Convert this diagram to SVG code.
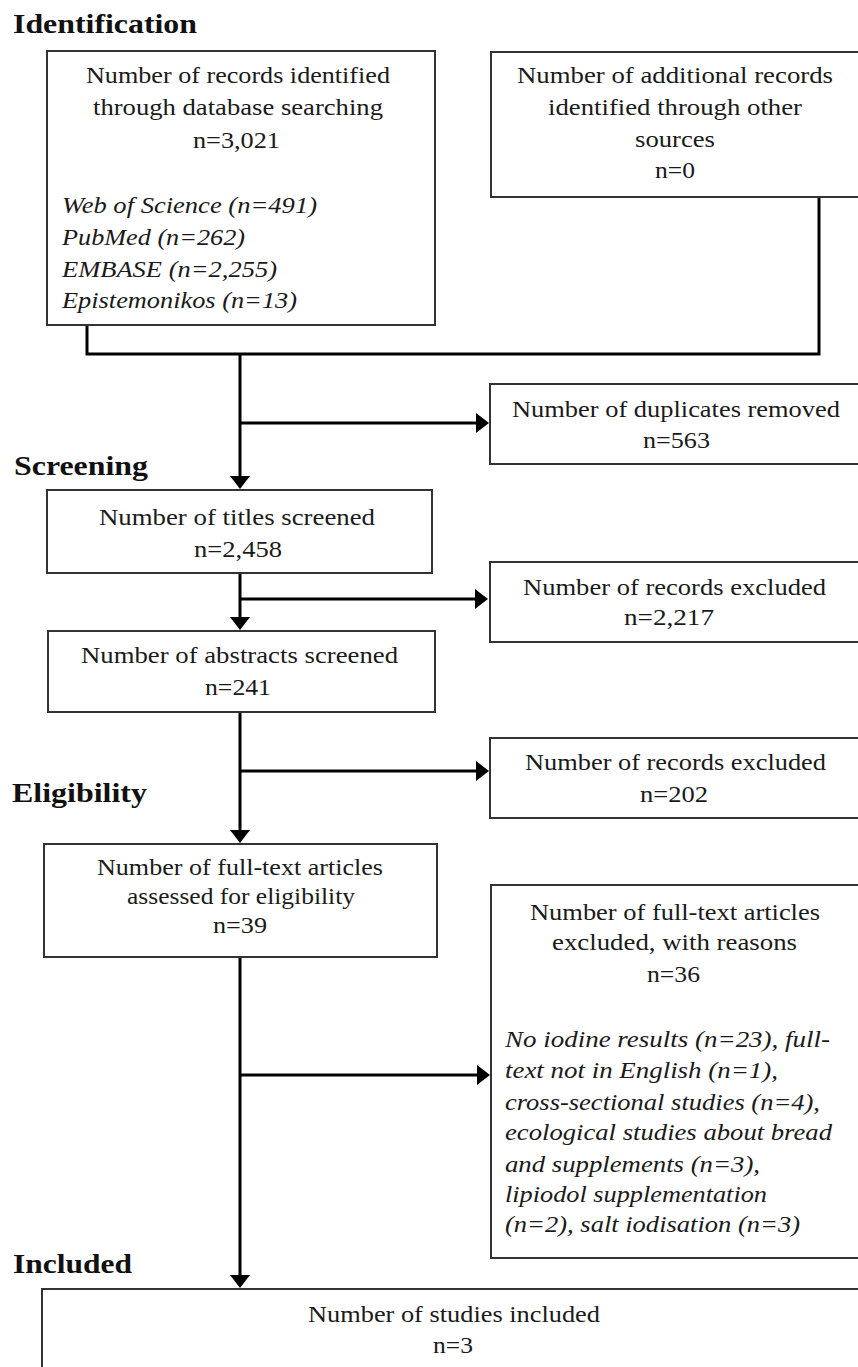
<svg xmlns="http://www.w3.org/2000/svg" width="858" height="1367" viewBox="0 0 858 1367">
<style>
.box{fill:#fff;stroke:#333;stroke-width:2}
text{font-family:'Liberation Serif','DejaVu Serif','Times New Roman',serif}
.t{font-size:23px;fill:#1a1a1a}
.i{font-style:italic}
.h{font-size:27px;font-weight:bold;fill:#111}
.c{fill:none;stroke:#000;stroke-width:3}
</style>
<defs>
<marker id="ah" markerUnits="userSpaceOnUse" markerWidth="14" markerHeight="20" refX="1" refY="10" orient="auto" viewBox="0 0 14 20">
<path d="M0,0 L13,10 L0,20 z" fill="#000"/>
</marker>
</defs>
<rect width="858" height="1367" fill="#fff"/>

<g id="headings" font-family="Liberation Serif, DejaVu Serif, serif">
<text class="h" x="13" y="33" textLength="184" lengthAdjust="spacingAndGlyphs">Identification</text>
<text class="h" x="14" y="475" textLength="134" lengthAdjust="spacingAndGlyphs">Screening</text>
<text class="h" x="12" y="802" textLength="135" lengthAdjust="spacingAndGlyphs">Eligibility</text>
<text class="h" x="13" y="1273" textLength="119" lengthAdjust="spacingAndGlyphs">Included</text>
</g>

<g id="connectors">
<path class="c" d="M87,325 V354 H819 V197"/>
<path class="c" d="M240,354 V477" marker-end="url(#ah)"/>
<path class="c" d="M240,423 H477" marker-end="url(#ah)"/>
<path class="c" d="M240,573 V618" marker-end="url(#ah)"/>
<path class="c" d="M240,599 H476" marker-end="url(#ah)"/>
<path class="c" d="M240,712 V831" marker-end="url(#ah)"/>
<path class="c" d="M240,771 H477" marker-end="url(#ah)"/>
<path class="c" d="M240,957 V1276" marker-end="url(#ah)"/>
<path class="c" d="M240,1075 H478" marker-end="url(#ah)"/>
</g>

<g id="n-database">
<rect class="box" x="47" y="51" width="388" height="274"/>
<text class="t" x="86" y="83" textLength="304" lengthAdjust="spacingAndGlyphs">Number of records identified</text>
<text class="t" x="93" y="115" textLength="290" lengthAdjust="spacingAndGlyphs">through database searching</text>
<text class="t" x="193" y="148" textLength="87" lengthAdjust="spacingAndGlyphs">n=3,021</text>
<text class="t i" x="62" y="213" textLength="255" lengthAdjust="spacingAndGlyphs">Web of Science (n=491)</text>
<text class="t i" x="62" y="245" textLength="183" lengthAdjust="spacingAndGlyphs">PubMed (n=262)</text>
<text class="t i" x="62" y="277" textLength="215" lengthAdjust="spacingAndGlyphs">EMBASE (n=2,255)</text>
<text class="t i" x="62" y="308" textLength="235" lengthAdjust="spacingAndGlyphs">Epistemonikos (n=13)</text>
</g>

<g id="n-other">
<rect class="box" x="491" y="52" width="372" height="145"/>
<text class="t" x="517" y="83" textLength="316" lengthAdjust="spacingAndGlyphs">Number of additional records</text>
<text class="t" x="548" y="115" textLength="254" lengthAdjust="spacingAndGlyphs">identified through other</text>
<text class="t" x="635" y="147" textLength="80" lengthAdjust="spacingAndGlyphs">sources</text>
<text class="t" x="655" y="178" textLength="40" lengthAdjust="spacingAndGlyphs">n=0</text>
</g>

<g id="n-duplicates">
<rect class="box" x="490" y="384" width="373" height="80"/>
<text class="t" x="512" y="417" textLength="328" lengthAdjust="spacingAndGlyphs">Number of duplicates removed</text>
<text class="t" x="643" y="448" textLength="67" lengthAdjust="spacingAndGlyphs">n=563</text>
</g>

<g id="n-titles">
<rect class="box" x="47" y="490" width="385" height="83"/>
<text class="t" x="99" y="525" textLength="276" lengthAdjust="spacingAndGlyphs">Number of titles screened</text>
<text class="t" x="194" y="557" textLength="88" lengthAdjust="spacingAndGlyphs">n=2,458</text>
</g>

<g id="n-excluded1">
<rect class="box" x="490" y="562" width="373" height="80"/>
<text class="t" x="523" y="595" textLength="303" lengthAdjust="spacingAndGlyphs">Number of records excluded</text>
<text class="t" x="624" y="625" textLength="90" lengthAdjust="spacingAndGlyphs">n=2,217</text>
</g>

<g id="n-abstracts">
<rect class="box" x="48" y="631" width="387" height="81"/>
<text class="t" x="81" y="663" textLength="317" lengthAdjust="spacingAndGlyphs">Number of abstracts screened</text>
<text class="t" x="205" y="695" textLength="66" lengthAdjust="spacingAndGlyphs">n=241</text>
</g>

<g id="n-excluded2">
<rect class="box" x="490" y="738" width="373" height="80"/>
<text class="t" x="525" y="770" textLength="301" lengthAdjust="spacingAndGlyphs">Number of records excluded</text>
<text class="t" x="640" y="802" textLength="68" lengthAdjust="spacingAndGlyphs">n=202</text>
</g>

<g id="n-fulltext">
<rect class="box" x="44" y="844" width="393" height="113"/>
<text class="t" x="97" y="875" textLength="286" lengthAdjust="spacingAndGlyphs">Number of full-text articles</text>
<text class="t" x="127" y="904" textLength="228" lengthAdjust="spacingAndGlyphs">assessed for eligibility</text>
<text class="t" x="213" y="933" textLength="54" lengthAdjust="spacingAndGlyphs">n=39</text>
</g>

<g id="n-excluded3">
<rect class="box" x="491" y="885" width="372" height="373"/>
<text class="t" x="530" y="920" textLength="290" lengthAdjust="spacingAndGlyphs">Number of full-text articles</text>
<text class="t" x="552" y="950" textLength="245" lengthAdjust="spacingAndGlyphs">excluded, with reasons</text>
<text class="t" x="647" y="982" textLength="53" lengthAdjust="spacingAndGlyphs">n=36</text>
<text class="t i" x="505" y="1047" textLength="325" lengthAdjust="spacingAndGlyphs">No iodine results (n=23), full-</text>
<text class="t i" x="505" y="1078" textLength="273" lengthAdjust="spacingAndGlyphs">text not in English (n=1),</text>
<text class="t i" x="505" y="1110" textLength="315" lengthAdjust="spacingAndGlyphs">cross-sectional studies (n=4),</text>
<text class="t i" x="505" y="1140" textLength="327" lengthAdjust="spacingAndGlyphs">ecological studies about bread</text>
<text class="t i" x="505" y="1172" textLength="255" lengthAdjust="spacingAndGlyphs">and supplements (n=3),</text>
<text class="t i" x="505" y="1202" textLength="262" lengthAdjust="spacingAndGlyphs">lipiodol supplementation</text>
<text class="t i" x="505" y="1232" textLength="295" lengthAdjust="spacingAndGlyphs">(n=2), salt iodisation (n=3)</text>
</g>

<g id="n-included">
<rect class="box" x="42" y="1289" width="821" height="100"/>
<text class="t" x="308" y="1322" textLength="292" lengthAdjust="spacingAndGlyphs">Number of studies included</text>
<text class="t" x="433" y="1353" textLength="40" lengthAdjust="spacingAndGlyphs">n=3</text>
</g>
</svg>
